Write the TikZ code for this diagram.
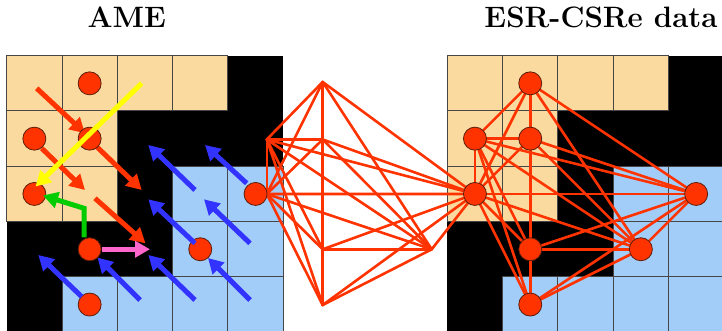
\documentclass[tikz,border=0pt]{standalone}
\usetikzlibrary{arrows.meta}
\pgfdeclarelayer{gridl}
\pgfdeclarelayer{edgel}
\pgfsetlayers{gridl,edgel,main}
\definecolor{peach}{RGB}{251,218,160}
\definecolor{skyb}{RGB}{163,205,249}
\definecolor{nred}{RGB}{255,51,0}
\definecolor{nborder}{RGB}{90,30,10}
\definecolor{ablue}{RGB}{51,51,255}
\definecolor{agreen}{RGB}{0,204,0}
\definecolor{apink}{RGB}{255,102,204}
\definecolor{ayellow}{RGB}{255,255,0}
\definecolor{gline}{RGB}{70,70,70}
\tikzset{
  dot/.style={circle,minimum size=23pt,inner sep=0pt,fill=nred,draw=nborder,line width=0.8pt},
  link/.style={draw=nred,line width=2.6pt,line cap=round,line join=round},
  arr/.style={line width=5pt,-{Triangle[length=15pt,width=16pt]}},
  cellO/.style={fill=peach,draw=gline,line width=1pt},
  cellB/.style={fill=skyb,draw=gline,line width=1pt},
  title/.style={font=\fontsize{29.5}{31}\selectfont\bfseries,anchor=base,inner sep=0pt},
}
\begin{document}
\begin{tikzpicture}[x=1pt,y=-1pt]
\useasboundingbox (0,0) rectangle (722,331);
% titles
\node[title] (t1) at (126.8,28) {AME};
\node[title] (t2) at (601,28) {ESR-CSRe data};
% grids
\begin{pgfonlayer}{gridl}
\begin{scope}
\clip (0,0) rectangle (722,331);
\foreach \ox in {6.7,447.3}{
  \fill[black] (\ox,55.7) rectangle ++(276.5,276.5);
  \foreach \c/\r in {0/0,1/0,2/0,3/0,0/1,1/1,0/2,1/2}
    \filldraw[cellO] ({\ox+\c*55.3},{55.7+\r*55.3}) rectangle ++(55.3,55.3);
  \foreach \c/\r in {3/2,4/2,3/3,4/3,1/4,2/4,3/4,4/4}
    \filldraw[cellB] ({\ox+\c*55.3},{55.7+\r*55.3}) rectangle ++(55.3,55.3);
}
\end{scope}
\end{pgfonlayer}
% left (AME) circles
\node[dot] (LA) at (89.65,83.35) {};
\node[dot] (LB) at (34.35,138.65) {};
\node[dot] (LC) at (89.65,138.65) {};
\node[dot] (LD) at (34.35,193.95) {};
\node[dot] (LE) at (89.65,249.25) {};
\node[dot] (LF) at (200.25,249.25) {};
\node[dot] (LG) at (255.55,193.95) {};
\node[dot] (LH) at (89.65,304.55) {};
% right (ESR-CSRe) circles
\node[dot] (RA) at (530.25,83.35) {};
\node[dot] (RB) at (474.95,138.65) {};
\node[dot] (RC) at (530.25,138.65) {};
\node[dot] (RD) at (474.95,193.95) {};
\node[dot] (RE) at (530.25,249.25) {};
\node[dot] (RF) at (640.85,249.25) {};
\node[dot] (RG) at (696.15,193.95) {};
\node[dot] (RH) at (530.25,304.55) {};
% middle graph vertices
\coordinate (MA) at (322.7,82);
\coordinate (MB) at (266.8,139.5);
\coordinate (MC) at (322.7,139.5);
\coordinate (MD) at (266.8,194);
\coordinate (ME) at (322.7,249.3);
\coordinate (MF) at (431.7,249.3);
\coordinate (MG) at (474.95,193.95);
\coordinate (MH) at (322.7,305);
\begin{pgfonlayer}{edgel}
\foreach \a [count=\i] in {A,B,C,D,E,F,G,H}{
  \foreach \b [count=\j] in {A,B,C,D,E,F,G,H}{
    \ifnum\j>\i
      \draw[link] (M\a) -- (M\b);
      \draw[link] (R\a.center) -- (R\b.center);
    \fi
  }
}
% red arrows (under circles)
\coordinate (r1s) at (36.7,88.3);  \coordinate (r1e) at (85,133.3);
\coordinate (r2s) at (41.7,148.3); \coordinate (r2e) at (85,190);
\coordinate (r3s) at (96.7,146.7); \coordinate (r3e) at (141.7,190);
\coordinate (r4s) at (95,198.3);   \coordinate (r4e) at (145.5,243.3);
\foreach \k in {1,2,3,4}
  \draw[arr,draw=nred] (r\k s) -- (r\k e);
\end{pgfonlayer}
% yellow arrow
\coordinate (ys) at (141.7,83.3); \coordinate (ye) at (35.5,186.5);
\draw[arr,draw=ayellow] (ys) -- (ye);
% green arrow
\coordinate (gm) at (84,208.3); \coordinate (ge) at (43,195.5);
\draw[arr,draw=agreen,line join=miter] (LE.north -| gm) -- (gm) -- (ge);
% pink arrow
\coordinate (pe) at (150,249.25);
\draw[arr,draw=apink] (LE.east) -- (pe);
% blue arrows
\foreach \k/\sx/\sy/\ex/\ey in {1/195/190/148.3/145, 2/246.7/183.3/205/145,
    3/195/243.3/148.3/199.3, 4/250/243.3/204/199.3,
    5/81.7/296.7/38.3/255, 6/140/300/97.5/257.5,
    7/195/300/148.3/255, 8/250/300/208/258}{
  \coordinate (b\k s) at (\sx,\sy);
  \coordinate (b\k e) at (\ex,\ey);
  \draw[arr,draw=ablue] (b\k s) -- (b\k e);
}
\end{tikzpicture}
\end{document}
